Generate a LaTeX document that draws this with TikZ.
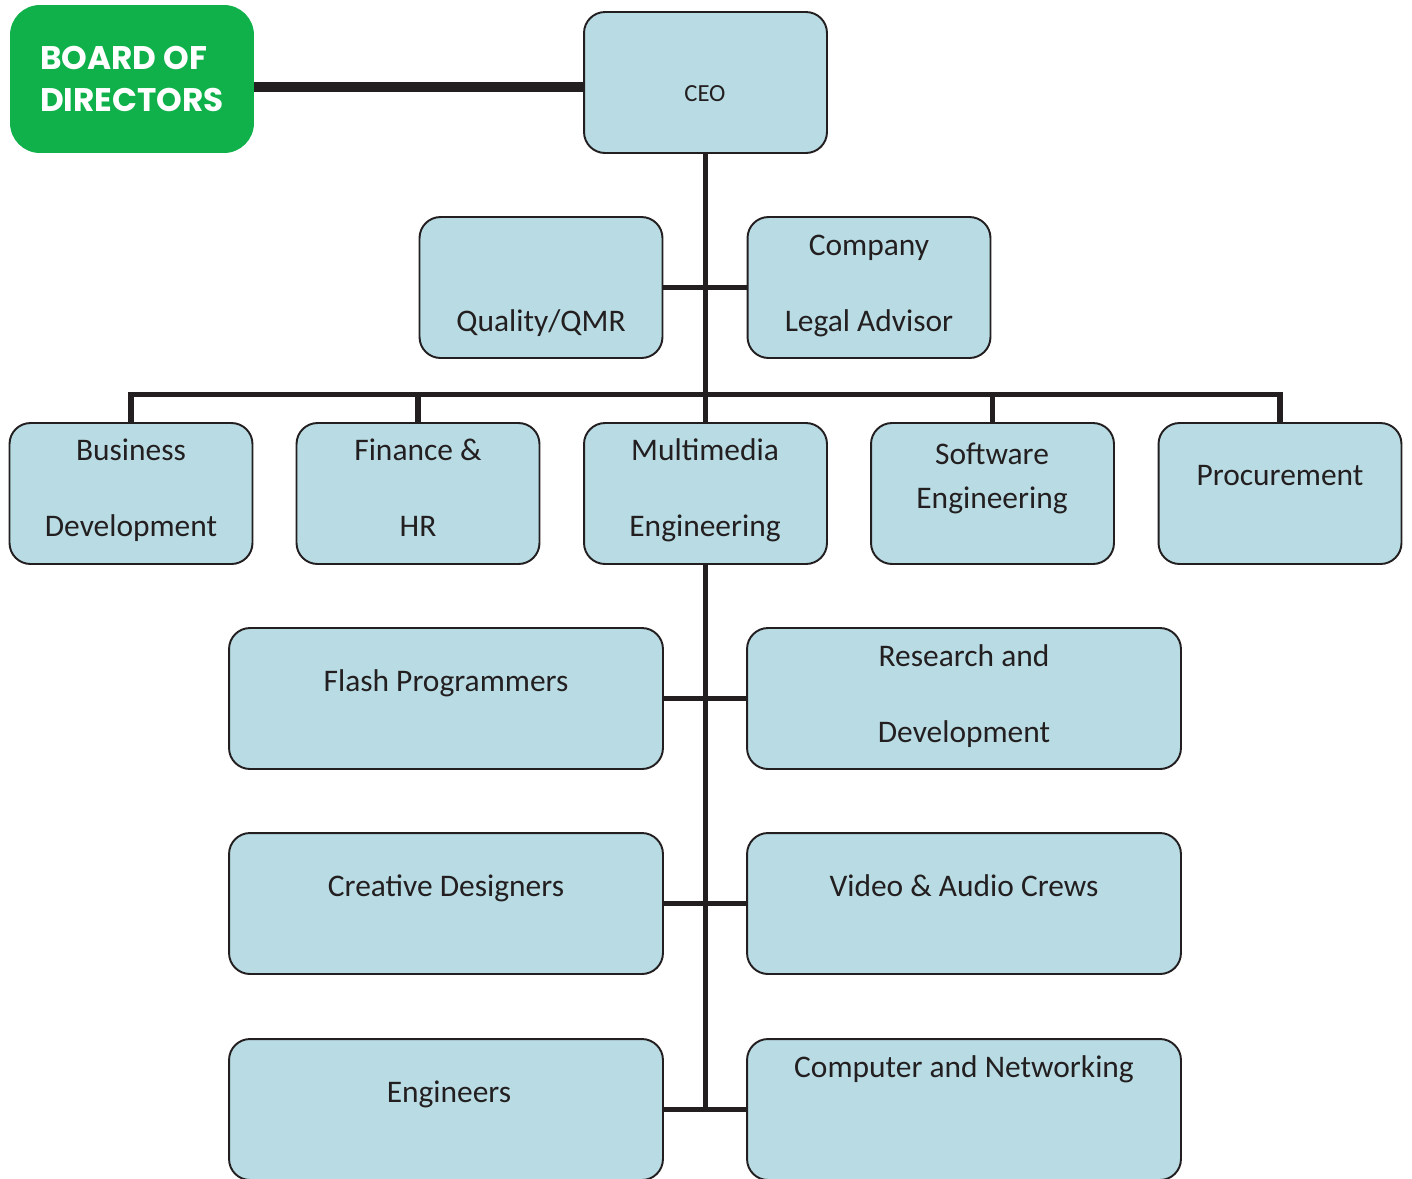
\documentclass[tikz,border=0pt]{standalone}
\usepackage{fontspec}
\setmainfont{Carlito}
\newfontfamily\boardfont{Poppins}
\usetikzlibrary{positioning}
\definecolor{unitfill}{HTML}{B9DCE4}
\definecolor{boardgreen}{HTML}{10B14B}
\definecolor{ink}{HTML}{231F20}

\begin{document}
\begin{tikzpicture}[x=0.02cm,y=-0.02cm,
  unit/.style={draw=ink,fill=unitfill,line width=1.1pt,rounded corners=0.42cm,
    minimum width=4.86cm,minimum height=2.82cm,inner sep=0pt},
  wide/.style={unit,minimum width=8.68cm},
  txt/.style={text=ink,inner sep=0pt,text height=0.7em,text depth=0.2em,yshift=-0.12cm,
    font=\fontsize{17.9pt}{21pt}\selectfont},
  link/.style={ink,line width=2.9pt}]
\useasboundingbox (0,0) rectangle (1412,1178);
% board and ceo
\node[fill=boardgreen,rounded corners=0.6cm,minimum width=4.88cm,minimum height=2.96cm,
  text=white,align=left,font=\boardfont\bfseries\fontsize{18.6pt}{22.5pt}\selectfont]
  (board) at (132,79) {\raisebox{0.06cm}{BOARD OF}\\DIRECTORS};
\node[unit] (ceo) at (705.5,82.5) {};
% staff and departments
\foreach \n/\x/\y in {qmr/541/287.5,legal/869/287.5,biz/131/493.5,fin/418/493.5,
  mm/705.5/493.5,sw/992.5/493.5,proc/1280/493.5}
  \node[unit] (\n) at (\x,\y) {};
% teams under multimedia
\foreach \n/\x/\y in {flash/446/698.5,rnd/964/698.5,crea/446/903.5,video/964/903.5,
  eng/446/1109.5,net/964/1109.5}
  \node[wide] (\n) at (\x,\y) {};
\node[txt,font=\fontsize{14pt}{17pt}\selectfont] (ceo-t) at (705,91) {CEO};
\foreach \x/\y/\t [count=\i] in {541/321/{Quality/QMR},869/245/Company,869/321/Legal Advisor,
  131/450/Business,131/526/Development,418/450/Finance \&,418/526/HR,
  705/450/Multimedia,705/526/Engineering,992/454/Software,992/498/Engineering,
  1280/475/Procurement,446/681/Flash Programmers,964/656/Research and,964/732/Development,
  446/886/Creative Designers,964/886/Video \& Audio Crews,449/1092/Engineers,
  964/1067/Computer and Networking}
  \node[txt] (lbl\i) at (\x,\y) {\t};
% connectors
\draw[ink,line width=5.7pt] ([yshift=-0.16cm]board.east) -- ([yshift=-0.16cm]board.east -| ceo.west);
\coordinate (bus) at (705.5,394);
\draw[link] (ceo.south) -- (mm.north);
\draw[link] (qmr.east) -- (legal.west);
\draw[link] (biz.north) -- ++(0,-28) -| (proc.north);
\foreach \n in {fin,sw} \draw[link] (\n.north) -- (\n.north |- bus);
\draw[link] (mm.south) -- (mm.south |- eng.east);
\foreach \l/\r in {flash/rnd,crea/video,eng/net} \draw[link] (\l.east) -- (\r.west);
\end{tikzpicture}
\end{document}
